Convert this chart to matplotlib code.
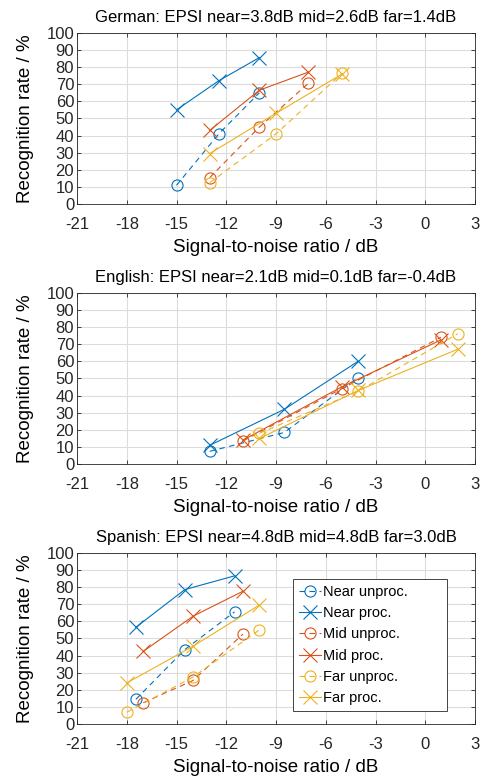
import numpy as np
import matplotlib.pyplot as plt

plt.rcParams['font.family'] = ['Liberation Sans', 'DejaVu Sans']
plt.rcParams['axes.unicode_minus'] = False

# SNR (dB) and recognition rate (%) per language / condition
de_near_snr = [-15.0, -12.45, -10.0]
de_near_unproc = [11, 41, 65]
de_near_proc = [55, 72, 85.5]
de_mid_snr = [-13.0, -10.0, -7.05]
de_mid_unproc = [15.5, 45, 70.5]
de_mid_proc = [43, 66.5, 77]
de_far_snr = [-13.0, -9.0, -5.0]
de_far_unproc = [12.5, 41, 76.5]
de_far_proc = [29.5, 53, 76]

en_near_snr = [-13.0, -8.5, -4.05]
en_near_unproc = [7.5, 18.5, 50.5]
en_near_proc = [11, 32, 60]
en_mid_snr = [-11.0, -5.05, 0.95]
en_mid_unproc = [13.5, 44, 74]
en_mid_proc = [14, 45, 72.5]
en_far_snr = [-10.0, -4.05, 1.95]
en_far_unproc = [18, 42.5, 76]
en_far_proc = [15, 43, 67]

es_near_snr = [-17.45, -14.5, -11.5]
es_near_unproc = [14.5, 43.5, 65.5]
es_near_proc = [56.5, 78.5, 86.5]
es_mid_snr = [-17.0, -14.0, -11.0]
es_mid_unproc = [12.5, 25.5, 52.5]
es_mid_proc = [42.5, 63, 77.5]
es_far_snr = [-18.0, -14.0, -10.0]
es_far_unproc = [7, 27.5, 55]
es_far_proc = [24, 45.5, 69.5]

titles = ['German: EPSI near=3.8dB mid=2.6dB far=1.4dB',
          'English: EPSI near=2.1dB mid=0.1dB far=-0.4dB',
          'Spanish: EPSI near=4.8dB mid=4.8dB far=3.0dB']

panels = [
    [(de_near_snr, de_near_unproc, de_near_proc),
     (de_mid_snr, de_mid_unproc, de_mid_proc),
     (de_far_snr, de_far_unproc, de_far_proc)],
    [(en_near_snr, en_near_unproc, en_near_proc),
     (en_mid_snr, en_mid_unproc, en_mid_proc),
     (en_far_snr, en_far_unproc, en_far_proc)],
    [(es_near_snr, es_near_unproc, es_near_proc),
     (es_mid_snr, es_mid_unproc, es_mid_proc),
     (es_far_snr, es_far_unproc, es_far_proc)],
]

names = ['Near', 'Mid', 'Far']
colors = ['#0072BD', '#D95319', '#EDB120']

fig = plt.figure(figsize=(4.8, 7.78), dpi=100)
W, H = 480, 778
tops = [32.7, 292.7, 552.7]
for k in range(3):
    ax = fig.add_axes([77 / W, 1 - (tops[k] + 171.5) / H, 398 / W, 171.5 / H])
    for (snr, unp, pro), name, c in zip(panels[k], names, colors):
        ax.plot(snr, unp, 'o', ls=(0, (5, 4)), color=c, lw=0.8, ms=8,
                mfc='none', mew=0.8, label=f'{name} unproc.', zorder=3)
        ax.plot(snr, pro, '-x', color=c, lw=0.8, ms=10.5, mew=0.8,
                label=f'{name} proc.', zorder=3)
    ax.set_xlim(-21, 3)
    ax.set_ylim(0, 100)
    ax.set_xticks(np.arange(-21, 4, 3))
    ax.set_yticks(np.arange(0, 101, 10))
    ax.grid(True, color='#dcdcdc', lw=0.8)
    ax.set_axisbelow(True)
    ax.tick_params(direction='in', top=True, right=True, labelsize=12,
                   length=3, width=0.6, colors='#262626')
    ax.tick_params(axis='x', pad=9)
    ax.tick_params(axis='y', pad=2)
    for s in ax.spines.values():
        s.set_color('#262626')
        s.set_linewidth(0.6)
    ax.set_title(titles[k], fontsize=12, pad=8)
    ax.set_xlabel('Signal-to-noise ratio / dB', fontsize=13.5, labelpad=5)
    ax.set_ylabel('Recognition rate / %', fontsize=13.5, labelpad=9)
    if k == 2:
        h, l = ax.get_legend_handles_labels()
        leg = ax.legend(h, l, loc='upper left', mode='expand',
                        bbox_to_anchor=(0.543, 0.101, 0.387, 0.746),
                        fontsize=10.5, fancybox=False, framealpha=1,
                        edgecolor='#262626', handlelength=1.5,
                        handletextpad=0.15, borderpad=0.4,
                        borderaxespad=0, labelspacing=0.5)
        leg.get_frame().set_linewidth(0.6)

fig.savefig('out.png', dpi=100)
